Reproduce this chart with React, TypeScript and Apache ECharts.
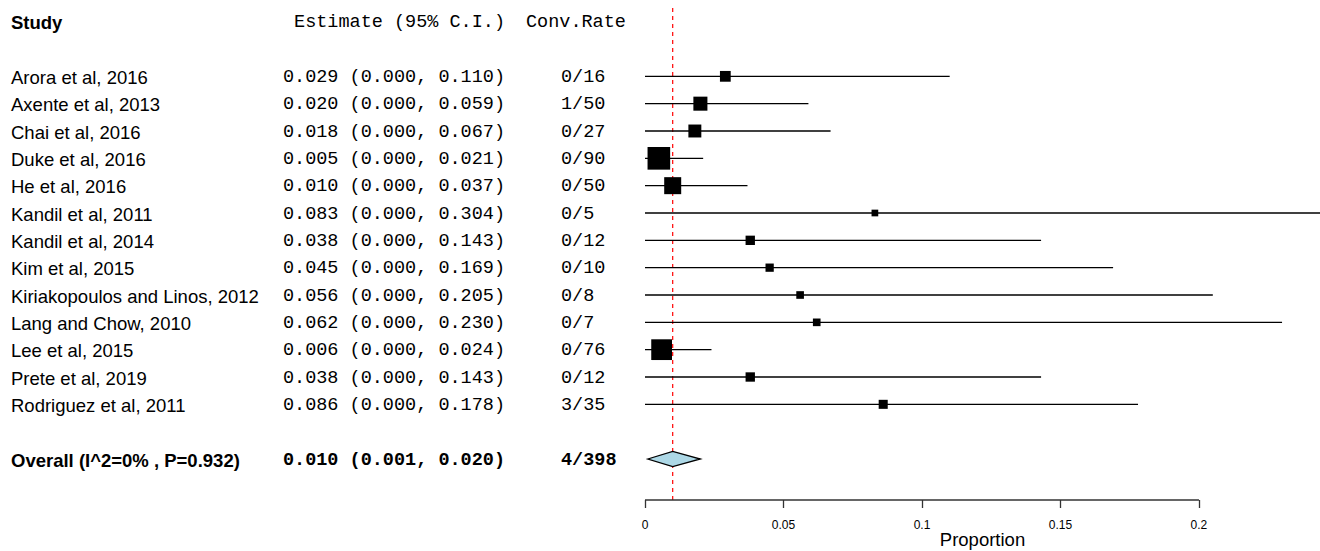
import React, { useEffect, useRef } from "react";
import * as echarts from "echarts";

const studies = [
  "Arora et al, 2016",
  "Axente et al, 2013",
  "Chai et al, 2016",
  "Duke et al, 2016",
  "He et al, 2016",
  "Kandil et al, 2011",
  "Kandil et al, 2014",
  "Kim et al, 2015",
  "Kiriakopoulos and Linos, 2012",
  "Lang and Chow, 2010",
  "Lee et al, 2015",
  "Prete et al, 2019",
  "Rodriguez et al, 2011",
];
const estimates = [0.029, 0.02, 0.018, 0.005, 0.01, 0.083, 0.038, 0.045, 0.056, 0.062, 0.006, 0.038, 0.086];
const lowers = [0, 0, 0, 0, 0, 0, 0, 0, 0, 0, 0, 0, 0];
const uppers = [0.11, 0.059, 0.067, 0.021, 0.037, 0.304, 0.143, 0.169, 0.205, 0.23, 0.024, 0.143, 0.178];
const events = [0, 1, 0, 0, 0, 0, 0, 0, 0, 0, 0, 0, 3];
const totals = [16, 50, 27, 90, 50, 5, 12, 10, 8, 7, 76, 12, 35];
const weights = [6.9, 9.0, 8.3, 14.5, 10.9, 4.3, 6.0, 5.3, 4.9, 4.9, 13.3, 6.0, 5.8];

const overallLabel = "Overall (I^2=0% , P=0.932)";
const overallEst = [0.01];
const overallLo = [0.001];
const overallHi = [0.02];

const headerLabels = ["Study", "Estimate (95% C.I.)", "Conv.Rate"];
const xTicks = [0, 0.05, 0.1, 0.15, 0.2];
const xAxisName = "Proportion";

const SANS = "'Liberation Sans', Arial, Helvetica, sans-serif";
const MONO = "'Liberation Mono', 'Courier New', monospace";
const FS = 18.5;

const rowPos = (i: number) => 15 - i;
const OVERALL_POS = 1;
const HEADER_POS = 17;

export default function App() {
  const ref = useRef<HTMLDivElement>(null);

  useEffect(() => {
    document.body.style.margin = "0";
    if (!ref.current) return;
    const chart = echarts.init(ref.current, null, { renderer: "svg" });

    const ciData = studies.map((_, i) => [lowers[i], uppers[i], rowPos(i)]);
    const sqData = studies.map((_, i) => ({
      value: [estimates[i], rowPos(i)],
      symbolSize: weights[i] * 1.56,
    }));

    const option: any = {
      animation: false,
      grid: {
        left: 645,
        right: 0,
        top: 8,
        bottom: 51,
        containLabel: false,
        outerBoundsMode: "none",
      },
      xAxis: {
        type: "value",
        min: 0,
        max: 0.2437,
        interval: 0.05,
        splitLine: { show: false },
        axisLine: { show: false, onZero: false },
        axisTick: {
          show: true,
          length: 8,
          customValues: xTicks,
          lineStyle: { color: "#333", width: 1.3 },
        },
        axisLabel: {
          show: true,
          customValues: xTicks,
          margin: 19,
          color: "#000",
          fontFamily: SANS,
          fontSize: 12,
          formatter: (v: number) => String(Number(v.toFixed(3))),
        },
        name: xAxisName,
        nameLocation: "middle",
        nameGap: 30,
        nameMoveOverlap: false,
        nameTextStyle: { color: "#000", fontFamily: SANS, fontSize: FS },
      },
      yAxis: {
        type: "value",
        min: -0.5,
        max: 17.5,
        show: false,
      },
      series: [
        {
          type: "line",
          data: [
            [overallEst[0], -0.5],
            [overallEst[0], 17.5],
          ],
          symbol: "none",
          clip: false,
          lineStyle: { color: "#ff0000", width: 1.2, type: [4, 4] },
          z: 1,
          silent: true,
        },
        {
          type: "line",
          data: [
            [xTicks[0], -0.5],
            [xTicks[xTicks.length - 1], -0.5],
          ],
          symbol: "none",
          clip: false,
          lineStyle: { color: "#333", width: 1.3 },
          z: 2,
          silent: true,
        },
        {
          type: "custom",
          data: ciData,
          z: 3,
          silent: true,
          renderItem: (params: any, api: any) => {
            const p1 = api.coord([api.value(0), api.value(2)]);
            const p2 = api.coord([api.value(1), api.value(2)]);
            return {
              type: "line",
              shape: { x1: p1[0], y1: p1[1], x2: p2[0], y2: p2[1] },
              style: { stroke: "#000", lineWidth: 1.3 },
            };
          },
        },
        {
          type: "scatter",
          data: sqData,
          symbol: "rect",
          itemStyle: { color: "#000", opacity: 1 },
          z: 4,
          silent: true,
        },
        {
          type: "custom",
          data: [[overallLo[0], overallEst[0], overallHi[0], OVERALL_POS]],
          z: 5,
          silent: true,
          renderItem: (params: any, api: any) => {
            const y = api.value(3);
            const h = 0.28;
            const a = api.coord([api.value(0), y]);
            const b = api.coord([api.value(1), y + h]);
            const c = api.coord([api.value(2), y]);
            const d = api.coord([api.value(1), y - h]);
            return {
              type: "polygon",
              shape: { points: [a, b, c, d] },
              style: { fill: "#add8e6", stroke: "#000", lineWidth: 1.3 },
            };
          },
        },
      ],
    };

    chart.setOption(option);

    const yPix = (p: number) => (chart.convertToPixel({ yAxisIndex: 0 } as any, p) as number) + 1;
    const txt = (
      text: string,
      x: number,
      y: number,
      align: string,
      family: string,
      bold = false
    ) => ({
      type: "text",
      x,
      y,
      silent: true,
      style: {
        text,
        fill: "#000",
        fontFamily: family,
        fontSize: FS,
        fontWeight: bold ? "bold" : "normal",
        align,
        verticalAlign: "middle",
        textAlign: align,
        textVerticalAlign: "middle",
      },
    });

    const elements: any[] = [];
    const hy = yPix(HEADER_POS);
    elements.push(txt(headerLabels[0], 11, hy, "left", SANS, true));
    elements.push(txt(headerLabels[1], 505, hy, "right", MONO));
    elements.push(txt(headerLabels[2], 526, hy, "left", MONO));

    studies.forEach((s, i) => {
      const y = yPix(rowPos(i));
      const ci = `${estimates[i].toFixed(3)} (${lowers[i].toFixed(3)}, ${uppers[i].toFixed(3)})`;
      elements.push(txt(s, 11, y, "left", SANS));
      elements.push(txt(ci, 505, y, "right", MONO));
      elements.push(txt(`${events[i]}/${totals[i]}`, 561, y, "left", MONO));
    });

    const oy = yPix(OVERALL_POS);
    const totalEvents = events.reduce((a, b) => a + b, 0);
    const totalN = totals.reduce((a, b) => a + b, 0);
    elements.push(txt(overallLabel, 11, oy, "left", SANS, true));
    elements.push(
      txt(
        `${overallEst[0].toFixed(3)} (${overallLo[0].toFixed(3)}, ${overallHi[0].toFixed(3)})`,
        505,
        oy,
        "right",
        MONO,
        true
      )
    );
    elements.push(txt(`${totalEvents}/${totalN}`, 561, oy, "left", MONO, true));

    chart.setOption({ graphic: { elements } });

    return () => chart.dispose();
  }, []);

  return <div ref={ref} style={{ width: 1320, height: 551 }} />;
}
